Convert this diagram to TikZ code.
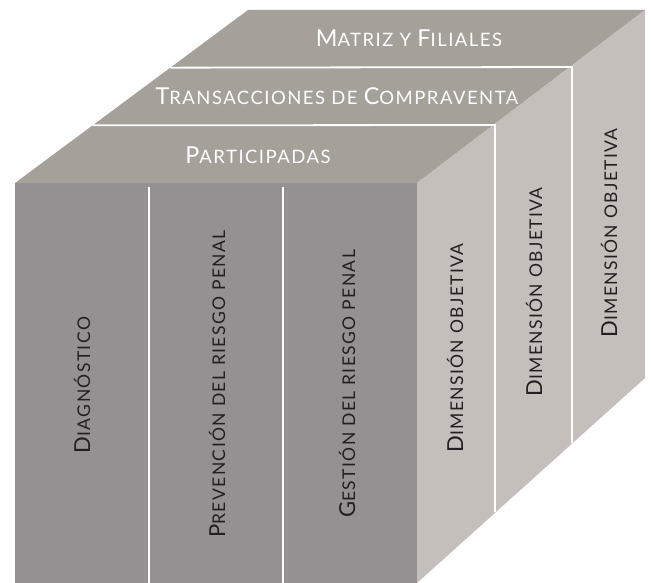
\documentclass[tikz,border=0pt]{standalone}
\usepackage{fontspec}
\setmainfont{Lato}
\newfontfamily\cubefont[LetterSpace=8]{Lato}
\usetikzlibrary{calc}
\definecolor{topgray}{RGB}{165,160,154}
\definecolor{frontgray}{RGB}{149,145,146}
\definecolor{sidegray}{RGB}{197,191,188}
\definecolor{inkdark}{RGB}{35,31,32}
\newcommand{\inipt}{22pt}
\newcommand{\Ini}[1]{{\fontsize{\inipt}{\inipt}\selectfont #1}}
\tikzset{
  divider/.style={draw=white, line width=1.8pt},
  toplabel/.style={text=white, font=\renewcommand{\inipt}{23.3pt}\cubefont\fontsize{18.5}{20}\selectfont, inner sep=0pt},
  sidelabel/.style={text=inkdark, font=\cubefont\fontsize{17.5}{20}\selectfont, rotate=90, inner sep=0pt}
}
\begin{document}
\begin{tikzpicture}[x=1pt, y=-1pt]
        \useasboundingbox (0, 0) rectangle (651, 583);

        % cube corners
        \coordinate (A) at (15, 183);
        \coordinate (B) at (417, 183);
        \coordinate (C) at (645, 10);
        \coordinate (D) at (248, 10);
        \coordinate (E) at (15, 583);
        \coordinate (F) at (417, 583);
        \coordinate (G) at (645, 378);

        \fill[topgray] (A) -- (B) -- (C) -- (D) -- cycle;
        \fill[frontgray] (A) -- (B) -- (F) -- (E) -- cycle;
        \fill[sidegray] (B) -- (C) -- (G) -- (F) -- cycle;

        % bands on top and side
        \coordinate (L1) at ($(A)!1/3!(D)$);
        \coordinate (R1) at (495, 125);
        \coordinate (S1) at (495, 512);
        \coordinate (L2) at ($(A)!2/3!(D)$);
        \coordinate (R2) at (572, 67);
        \coordinate (S2) at (572, 443);
        \draw[divider] (L1) -- (R1) -- (S1);
        \draw[divider] (L2) -- (R2) -- (S2);

        % columns on the front
        \coordinate (T1) at (149, 187);
        \coordinate (B1) at (149, 583);
        \coordinate (T2) at (283, 187);
        \coordinate (B2) at (283, 583);
        \draw[divider] (T1) -- (B1);
        \draw[divider] (T2) -- (B2);

        \node[toplabel] (matriz) at (409, 38) {\Ini{M}ATRIZ Y \Ini{F}ILIALES};
        \node[toplabel] (compraventa) at (337, 96) {\Ini{T}RANSACCIONES DE \Ini{C}OMPRAVENTA};
        \node[toplabel] (participadas) at (258, 155) {\Ini{P}ARTICIPADAS};

        \node[sidelabel] (diagnostico) at (82, 385) {\Ini{D}IAGNÓSTICO};
        \node[sidelabel] (prevencion) at (217, 384) {\Ini{P}REVENCIÓN DEL RIESGO PENAL};
        \node[sidelabel] (gestion) at (347, 384) {\Ini{G}ESTIÓN DEL RIESGO PENAL};

        \node[sidelabel] (dimuno) at (455, 348) {\Ini{D}IMENSIÓN OBJETIVA};
        \node[sidelabel] (dimdos) at (534, 292) {\Ini{D}IMENSIÓN OBJETIVA};
        \node[sidelabel] (dimtres) at (609, 233) {\Ini{D}IMENSIÓN OBJETIVA};

    \end{tikzpicture}
\end{document}
